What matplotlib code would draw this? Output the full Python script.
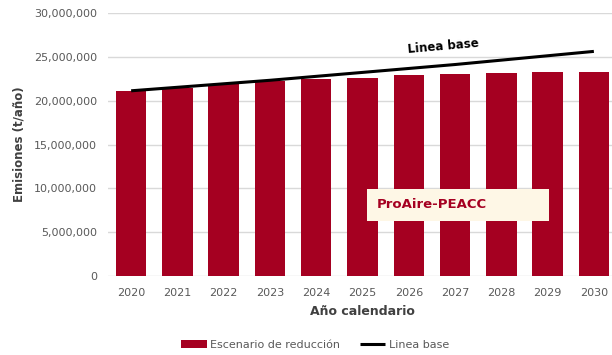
import matplotlib
matplotlib.use("Agg")
import matplotlib.pyplot as plt
from matplotlib.patches import Rectangle
from matplotlib.ticker import FuncFormatter, MultipleLocator

years = ["2020", "2021", "2022", "2023", "2024", "2025", "2026", "2027", "2028", "2029", "2030"]
reduccion = [21.1e6, 21.5e6, 21.95e6, 22.25e6, 22.45e6, 22.65e6, 22.9e6, 23.05e6, 23.15e6, 23.25e6, 23.25e6]
linea_base = [21.15e6, 21.55e6, 21.95e6, 22.35e6, 22.8e6, 23.25e6, 23.7e6, 24.15e6, 24.65e6, 25.15e6, 25.65e6]

RED = "#A50021"
GRAY = "#595959"
DARK = "#404040"

plt.rcParams["font.family"] = ["DejaVu Sans"]

W, H = 612, 355
fig = plt.figure(figsize=(W / 100, H / 100), dpi=100)
ax = fig.add_axes([108 / W, (H - 276) / H, (617 - 108) / W, (276 - 13.3) / H])

x = list(range(len(years)))
bars = ax.bar(x, reduccion, width=0.66, color=RED, zorder=2, label="Escenario de reducción")
line, = ax.plot(x, linea_base, color="black", lw=2.2, zorder=3, label="Linea base",
                solid_capstyle="butt")

ax.set_xlim(-0.5, len(years) - 0.5)
ax.set_ylim(0, 30e6)
ax.yaxis.set_major_locator(MultipleLocator(5e6))
ax.yaxis.set_major_formatter(FuncFormatter(lambda v, p: f"{int(v):,}"))
ax.set_xticks(x)
ax.set_xticklabels(years)
ax.grid(axis="y", color="#D9D9D9", lw=1, zorder=0)
for s in ax.spines.values():
    s.set_visible(False)
ax.tick_params(axis="both", length=0, colors=GRAY, labelsize=8)
ax.tick_params(axis="x", pad=9)
ax.tick_params(axis="y", pad=8)

ax.set_ylabel("Emisiones (t/año)", fontsize=8.5, fontweight="bold", color=DARK, labelpad=6)
ax.set_xlabel("Año calendario", fontsize=9, fontweight="bold", color=DARK, labelpad=5)

# Series label above the baseline
ax.text(6.74, 26.2e6, "Linea base", fontsize=8.5, fontweight="bold", color="black",
        rotation=5, ha="center", va="center", zorder=4)

# Program tag box
fig.patches.append(Rectangle((367 / W, (H - 221) / H), 182 / W, 32 / H,
                             transform=fig.transFigure, facecolor="#FEF7E6",
                             edgecolor="none", zorder=5))
fig.text(377 / W, (H - 204) / H, "ProAire-PEACC", fontsize=9.5, fontweight="bold",
         color=RED, ha="left", va="center", zorder=6)

fig.legend(handles=[bars, line], loc="lower center", bbox_to_anchor=(315 / W, -0.014),
           ncol=2, frameon=False, fontsize=8, handlelength=2.3, handleheight=0.65,
           columnspacing=1.8, handletextpad=0.3, labelcolor=GRAY)

fig.savefig("out.png", dpi=100)
